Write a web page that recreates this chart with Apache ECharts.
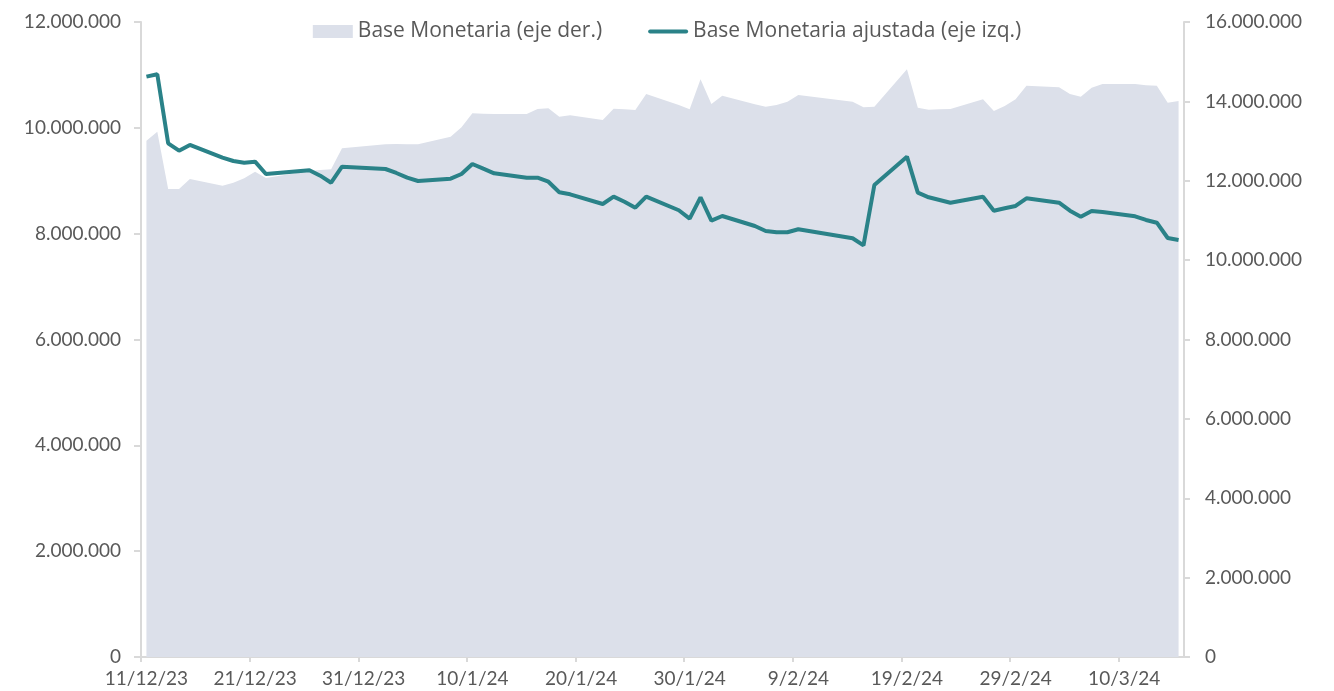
<!DOCTYPE html>
<html>
<head>
<meta charset="utf-8">
<script src="https://cdn.jsdelivr.net/npm/echarts@6/dist/echarts.min.js"></script>
<style>
  html, body { margin: 0; padding: 0; background: #fff; }
  #chart { width: 1334px; height: 691px; }
</style>
</head>
<body>
<div id="chart"></div>
<script>
// business days shown in the chart
var dates = [
  '2023-12-11','2023-12-12','2023-12-13','2023-12-14','2023-12-15',
  '2023-12-18','2023-12-19','2023-12-20','2023-12-21','2023-12-22',
  '2023-12-26','2023-12-27','2023-12-28','2023-12-29',
  '2024-01-02','2024-01-03','2024-01-04','2024-01-05',
  '2024-01-08','2024-01-09','2024-01-10','2024-01-11','2024-01-12',
  '2024-01-15','2024-01-16','2024-01-17','2024-01-18','2024-01-19',
  '2024-01-22','2024-01-23','2024-01-24','2024-01-25','2024-01-26',
  '2024-01-29','2024-01-30','2024-01-31','2024-02-01','2024-02-02',
  '2024-02-05','2024-02-06','2024-02-07','2024-02-08','2024-02-09',
  '2024-02-14','2024-02-15','2024-02-16',
  '2024-02-19','2024-02-20','2024-02-21','2024-02-22','2024-02-23',
  '2024-02-26','2024-02-27','2024-02-28','2024-02-29','2024-03-01',
  '2024-03-04','2024-03-05','2024-03-06','2024-03-07','2024-03-08',
  '2024-03-11','2024-03-12','2024-03-13','2024-03-14','2024-03-15'
];

// Base Monetaria (eje der.)
var baseMonetaria = [
  13009000,13236000,11792000,11792000,12044000,
  11875000,11951000,12062000,12228000,12069000,
  12246000,12271000,12289000,12818000,
  12918000,12926000,12920000,12918000,
  13110000,13347000,13700000,13690000,13682000,
  13682000,13808000,13826000,13614000,13649000,
  13531000,13816000,13800000,13783000,14186000,
  13909000,13800000,14556000,13934000,14143000,
  13926000,13866000,13909000,13992000,14161000,
  13992000,13851000,13866000,
  14808000,13841000,13790000,13800000,13808000,
  14052000,13758000,13884000,14052000,14395000,
  14355000,14186000,14118000,14345000,14438000,
  14438000,14405000,14395000,13967000,14010000
];

// Base Monetaria ajustada (eje izq.)
var baseAjustada = [
  10967000,11012000,9708000,9568000,9676000,
  9436000,9373000,9341000,9360000,9128000,
  9198000,9096000,8963000,9266000,
  9222000,9147000,9058000,8995000,
  9039000,9128000,9317000,9228000,9141000,
  9058000,9058000,8982000,8782000,8744000,
  8561000,8699000,8604000,8491000,8699000,
  8442000,8283000,8687000,8245000,8334000,
  8145000,8051000,8026000,8026000,8083000,
  7913000,7780000,8920000,
  9455000,8775000,8687000,8636000,8585000,
  8699000,8434000,8479000,8523000,8668000,
  8585000,8434000,8321000,8429000,8410000,
  8328000,8259000,8207000,7918000,7880000
];

var startDate = '2023-12-11';
var endDate = '2024-03-16';
var tickDays = [0, 10, 20, 30, 40, 50, 60, 70, 80, 90];

var DAY = 86400000;
var t0 = Date.parse(startDate);
function dayPos(d) { return (Date.parse(d) - t0) / DAY + 0.5; }
function fmtDate(v) {
  var d = new Date(t0 + Math.floor(v) * DAY);
  return d.getUTCDate() + '/' + (d.getUTCMonth() + 1) + '/' + String(d.getUTCFullYear()).slice(2);
}
function fmtNum(v) { return String(v).replace(/\B(?=(\d{3})+(?!\d))/g, '.'); }

var areaData = dates.map(function (d, i) { return [dayPos(d), baseMonetaria[i]]; });
var lineData = dates.map(function (d, i) { return [dayPos(d), baseAjustada[i]]; });

var font = 'Lato';
var legendFont = 'Open Sans';
var textColor = '#595959';
var axisColor = '#d9d9d9';

var chart = echarts.init(document.getElementById('chart'));
chart.setOption({
  animation: false,
  textStyle: { fontFamily: font },
  legend: {
    top: 16,
    left: 'center',
    itemWidth: 40,
    itemHeight: 13,
    itemGap: 46,
    textStyle: { color: textColor, fontSize: 21, fontFamily: legendFont },
    data: [
      { name: 'Base Monetaria (eje der.)', icon: 'rect' },
      { name: 'Base Monetaria ajustada (eje izq.)', icon: 'path://M2,0 L38,0 A2,2 0 0 1 38,4 L2,4 A2,2 0 0 1 2,0 Z' }
    ]
  },
  grid: { left: 141, right: 150, top: 22, bottom: 34 },
  xAxis: {
    type: 'value',
    min: 0,
    max: (Date.parse(endDate) - t0) / DAY,
    splitLine: { show: false },
    axisLine: { lineStyle: { color: axisColor, width: 2 } },
    axisTick: { show: true, length: 5, customValues: tickDays, lineStyle: { color: axisColor, width: 2 } },
    axisLabel: {
      customValues: tickDays.map(function (d) { return d + 0.5; }),
      formatter: fmtDate,
      color: textColor, fontSize: 19, fontFamily: font, margin: 12
    }
  },
  yAxis: [
    {
      type: 'value', position: 'left',
      min: 0, max: 12000000, interval: 2000000,
      splitLine: { show: false },
      axisLine: { show: true, lineStyle: { color: axisColor, width: 2 } },
      axisTick: { show: true, length: 7, lineStyle: { color: axisColor, width: 2 } },
      axisLabel: { formatter: fmtNum, color: textColor, fontSize: 19, fontFamily: font, margin: 20 }
    },
    {
      type: 'value', position: 'right',
      min: 0, max: 16000000, interval: 2000000,
      splitLine: { show: false },
      axisLine: { show: true, lineStyle: { color: axisColor, width: 2 } },
      axisTick: { show: true, length: 6, lineStyle: { color: axisColor, width: 2 } },
      axisLabel: { formatter: fmtNum, color: textColor, fontSize: 19, fontFamily: font, margin: 21 }
    }
  ],
  series: [
    {
      name: 'Base Monetaria (eje der.)',
      type: 'line',
      yAxisIndex: 1,
      symbol: 'none',
      color: '#dce0ea',
      lineStyle: { width: 0 },
      areaStyle: { color: '#dce0ea', opacity: 1 },
      data: areaData
    },
    {
      name: 'Base Monetaria ajustada (eje izq.)',
      type: 'line',
      yAxisIndex: 0,
      symbol: 'none',
      color: '#2a8288',
      lineStyle: { width: 4, color: '#2a8288' },
      data: lineData
    }
  ]
});
</script>
</body>
</html>
